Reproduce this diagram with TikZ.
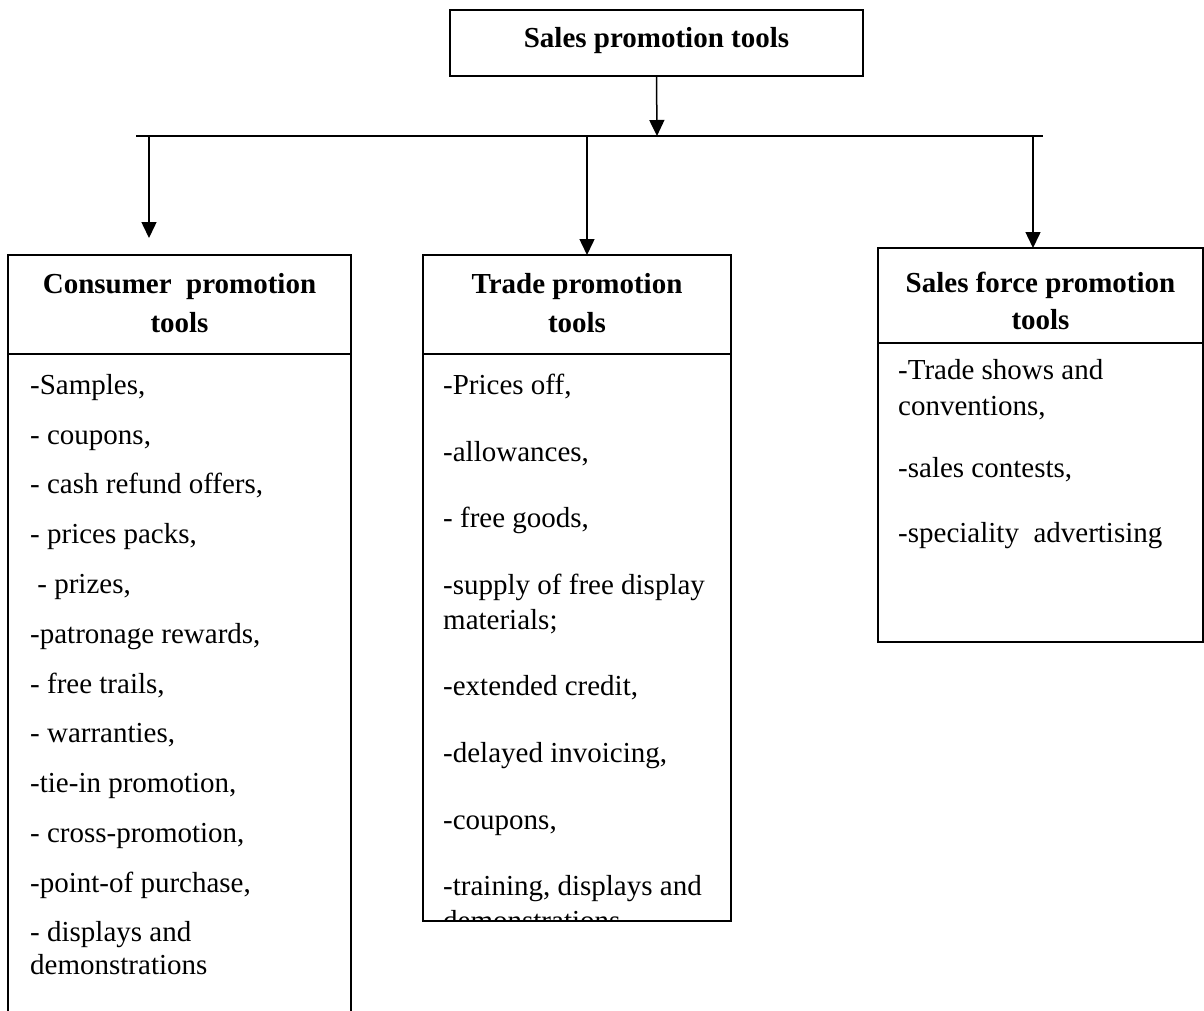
\documentclass[tikz,border=0pt]{standalone}
\usepackage{fontspec}
\setmainfont{Liberation Serif}
\usetikzlibrary{arrows.meta}
\begin{document}
\fontsize{29}{34}\selectfont
\begin{tikzpicture}[x=1pt,y=-1pt,
  frame/.style={draw, line width=1.9pt, inner sep=0pt, outer sep=0pt, anchor=north west},
  head/.style={font=\bfseries, anchor=base, inner sep=0pt},
  item/.style={anchor=mid west, inner sep=0pt},
  rule/.style={line width=1.9pt},
  bus/.style={line width=1.5pt},
  feed/.style={line width=1.5pt, -{Triangle[width=15pt,length=16pt]}}]
\useasboundingbox (0,0) rectangle (1204,1010);
\clip (0,0) rectangle (1204,1010);

% top box
\node[frame, minimum width=413pt, minimum height=66pt] (top) at (450,10) {};
\node[head] (toptext) at (656.5,47) {Sales promotion tools};

% the three category boxes
\node[frame, minimum width=343pt, minimum height=800pt] (cons) at (8,255) {};
\node[frame, minimum width=308pt, minimum height=666pt] (trade) at (423,255) {};
\node[frame, minimum width=325pt, minimum height=394pt] (force) at (878,248) {};

% header dividers
\coordinate (divA) at (0,354);
\coordinate (divB) at (0,343);
\draw[rule] (cons.west |- divA) -- (cons.east |- divA);
\draw[rule] (trade.west |- divA) -- (trade.east |- divA);
\draw[rule] (force.west |- divB) -- (force.east |- divB);

% headers
\node[head] (consh1) at (179.5,293) {Consumer\ \ promotion};
\node[head] (consh2) at (179.5,332) {tools};
\node[head] (tradeh1) at (577,293) {Trade promotion};
\node[head] (tradeh2) at (577,332) {tools};
\node[head] (forceh1) at (1040.5,292) {Sales force promotion};
\node[head] (forceh2) at (1040.5,329) {tools};

% connectors
\coordinate (busL) at (136,136);
\coordinate (busR) at (1043,136);
\coordinate (busTop) at (657,136);
\coordinate (dropL) at (149,136);
\coordinate (dropM) at (587,136);
\coordinate (dropR) at (1033,136);
\coordinate (tipL) at (149,238);
\draw[bus] (busL) -- (busR);
\draw[feed] (top.south) -- (busTop);
\draw[feed] (dropL) -- (tipL);
\draw[feed] (dropM) -- (dropM |- trade.north);
\draw[feed] (dropR) -- (dropR |- force.north);

% consumer promotion items
\node[item] (c1) at (30,388) {-Samples,};
\node[item] (c2) at (30,438) {- coupons,};
\node[item] (c3) at (30,487) {- cash refund offers,};
\node[item] (c4) at (30,537) {- prices packs,};
\node[item] (c5) at (30,587) {\ - prizes,};
\node[item] (c6) at (30,637) {-patronage rewards,};
\node[item] (c7) at (30,687) {- free trails,};
\node[item] (c8) at (30,736) {- warranties,};
\node[item] (c9) at (30,786) {-tie-in promotion,};
\node[item] (c10) at (30,836) {- cross-promotion,};
\node[item] (c11) at (30,886) {-point-of purchase,};
\node[item] (c12) at (30,935) {- displays and};
\node[item] (c13) at (30,968) {demonstrations};

% trade promotion items, cut off at the box bottom
\begin{scope}
\clip (trade.north west) rectangle (trade.south east);
\node[item] (t1) at (443,388) {-Prices off,};
\node[item] (t2) at (443,455) {-allowances,};
\node[item] (t3) at (443,521) {- free goods,};
\node[item] (t4) at (443,588) {-supply of free display};
\node[item] (t5) at (443,623) {materials;};
\node[item] (t6) at (443,689) {-extended credit,};
\node[item] (t7) at (443,756) {-delayed invoicing,};
\node[item] (t8) at (443,823) {-coupons,};
\node[item] (t9) at (443,889) {-training, displays and};
\node[item] (t10) at (443,924) {demonstrations};
\end{scope}

% sales force promotion items
\node[item] (f1) at (898,373) {-Trade shows and};
\node[item] (f2) at (898,409) {conventions,};
\node[item] (f3) at (898,471) {-sales contests,};
\node[item] (f4) at (898,536) {-speciality\ \ advertising};
\end{tikzpicture}
\end{document}
